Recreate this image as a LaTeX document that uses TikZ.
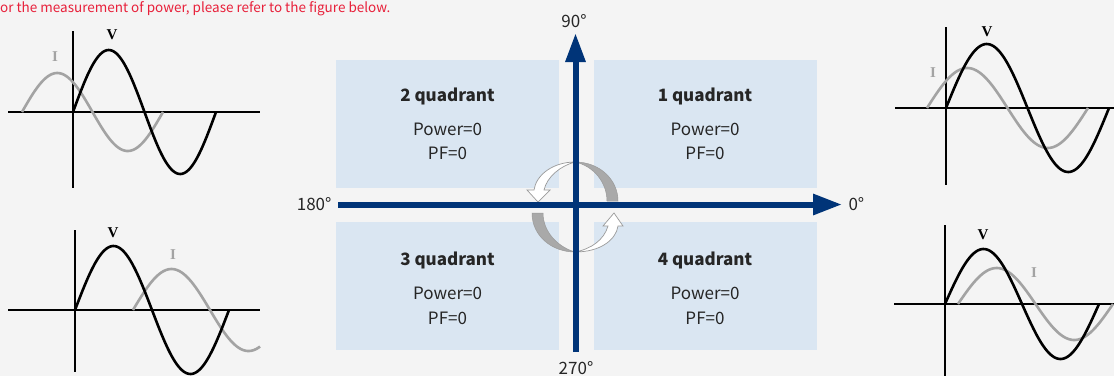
\documentclass[tikz,border=0pt]{standalone}
\usepackage{fontspec}
\setmainfont{Noto Sans CJK SC}
\newfontfamily\wavefont{Liberation Serif}
\usetikzlibrary{arrows.meta}
\definecolor{bgc}{HTML}{F4F4F4}
\definecolor{navy}{HTML}{003478}
\definecolor{qfill}{HTML}{DAE6F2}
\definecolor{redtxt}{HTML}{E8203A}
\definecolor{igray}{HTML}{A3A3A3}
\definecolor{bandgray}{HTML}{A9A9A9}
\definecolor{rimgray}{HTML}{9A9A9A}
\tikzset{
  qbox/.style={fill=qfill, draw=none, minimum width=223pt, minimum height=128pt, inner sep=0pt},
  qtitle/.style={font=\fontsize{17}{20}\selectfont\bfseries, text=black!85},
  qtext/.style={font=\fontsize{17}{20}\selectfont, text=black!85},
  deg/.style={font=\fontsize{17}{20}\selectfont, text=black!85},
  axisline/.style={draw=navy, line width=6pt},
  waxis/.style={draw=black, line width=1.4pt},
  vwave/.style={draw=black, line width=2.6pt},
  iwave/.style={draw=igray, line width=2.6pt},
  vlab/.style={font=\wavefont\fontsize{15}{16}\selectfont\bfseries, text=black},
  ilab/.style={font=\wavefont\fontsize{15}{16}\selectfont\bfseries, text=igray},
  whitearrow/.style={fill=white, draw=rimgray, line width=0.7pt},
  grayband/.style={fill=bandgray, draw=rimgray, line width=0.5pt}
}
\begin{document}
\begin{tikzpicture}[x=1pt,y=-1pt]
\fill[bgc] (0,0) rectangle (1114,376);
\useasboundingbox (0,0) rectangle (1114,376);

% header
\node[anchor=base west, inner sep=0pt, text=redtxt, font=\fontsize{13.5}{15}\selectfont] (hdr) at (0,12) {or the measurement of power, please refer to the figure below.};

% quadrant boxes
\node[qbox] (q2) at (447.5,124) {};
\node[qbox] (q1) at (705,124) {};
\node[qbox] (q3) at (447.5,286) {};
\node[qbox] (q4) at (705,286) {};

\node[qtitle] (t2) at (447.5,96) {2 quadrant};
\node[qtext] (p2) at (447.5,129) {Power=0};
\node[qtext] (f2) at (447.5,153) {PF=0};
\node[qtitle] (t1) at (705,96) {1 quadrant};
\node[qtext] (p1) at (705,129) {Power=0};
\node[qtext] (f1) at (705,153) {PF=0};
\node[qtitle] (t3) at (447.5,260) {3 quadrant};
\node[qtext] (p3) at (447.5,293) {Power=0};
\node[qtext] (f3) at (447.5,318) {PF=0};
\node[qtitle] (t4) at (705,260) {4 quadrant};
\node[qtext] (p4) at (705,293) {Power=0};
\node[qtext] (f4) at (705,318) {PF=0};

% rotation arrows
\draw[grayband] (575,162) .. controls (600,162) and (618,180) .. (618,201) -- (607,201) .. controls (607,183) and (594,166) .. (575,162) -- cycle;
\draw[whitearrow] (575,162) .. controls (553,162) and (536,175) .. (534,190) -- (527,190) -- (538,202) -- (550,190) -- (544,190) .. controls (547,177) and (560,166) .. (575,162) -- cycle;
\draw[grayband] (532,213) .. controls (532,236) and (552,252) .. (575,252) .. controls (558,247) and (543,232) .. (543,213) -- cycle;
\draw[whitearrow] (575,252) .. controls (600,252) and (616,240) .. (618,226) -- (623,226) -- (614,213) -- (603,226) -- (608,226) .. controls (604,240) and (591,249) .. (575,252) -- cycle;

% axes
\coordinate (xs) at (338,204.5);
\coordinate (xe) at (842,204.5);
\coordinate (ys) at (575.5,352);
\coordinate (ye) at (575.5,33);
\draw[axisline, -{Triangle[length=29pt,width=20pt]}] (xs) -- (xe);
\draw[axisline, -{Triangle[length=29pt,width=19pt]}] (ys) -- (ye);
\node[deg, anchor=west] (d0) at (845,204.5) {0°};
\node[deg, anchor=east] (d180) at (335,204.5) {180°};
\node[deg, anchor=base] (d90) at (574,27) {90°};
\node[deg, anchor=base] (d270) at (576,374) {270°};

% ---- top-left wave panel
\coordinate (tla) at (8,112); \coordinate (tlb) at (260,112);
\coordinate (tlc) at (73,31); \coordinate (tld) at (73,188);
\draw[waxis] (tla) -- (tlb);
\draw[waxis] (tlc) -- (tld);
\draw[iwave] plot[domain=0:360,samples=90,smooth] ({22+\x/360*141},{112-39*sin(\x)});
\draw[vwave] plot[domain=0:360,samples=90,smooth] ({73+\x/360*143},{112-62*sin(\x)});
\node[ilab] (tlI) at (55,57) {I};
\node[vlab] (tlV) at (112,35) {V};

% ---- bottom-left wave panel
\coordinate (bla) at (8,310); \coordinate (blb) at (260,310);
\coordinate (blc) at (75,230); \coordinate (bld) at (75,372);
\draw[waxis] (bla) -- (blb);
\draw[waxis] (blc) -- (bld);
\draw[iwave] plot[domain=0:297,samples=90,smooth] ({133+\x/360*154},{310-41*sin(\x)});
\draw[vwave] plot[domain=0:360,samples=90,smooth] ({75+\x/360*154},{310-64*sin(\x)});
\node[vlab] (blV) at (113,233) {V};
\node[ilab] (blI) at (173,255) {I};

% ---- top-right wave panel
\coordinate (tra) at (895,108); \coordinate (trb) at (1114,108);
\coordinate (trc) at (946,27); \coordinate (trd) at (946,185);
\draw[waxis] (tra) -- (trb);
\draw[waxis] (trc) -- (trd);
\draw[iwave] plot[domain=0:360,samples=90,smooth] ({927+\x/360*161},{108-40*sin(\x)});
\draw[vwave] plot[domain=0:360,samples=90,smooth] ({946+\x/360*163},{108-64*sin(\x)});
\node[vlab] (trV) at (987,32) {V};
\node[ilab] (trI) at (933,73) {I};

% ---- bottom-right wave panel
\coordinate (bra) at (894,304); \coordinate (brb) at (1114,304);
\coordinate (brc) at (945,225); \coordinate (brd) at (945,376);
\draw[waxis] (bra) -- (brb);
\draw[waxis] (brc) -- (brd);
\draw[iwave] plot[domain=0:360,samples=90,smooth] ({958+\x/360*155},{304-36*sin(\x)});
\draw[vwave] plot[domain=0:360,samples=90,smooth] ({945+\x/360*154},{304-55*sin(\x)});
\node[vlab] (brV) at (983,235) {V};
\node[ilab] (brI) at (1034,273) {I};
\end{tikzpicture}
\end{document}
